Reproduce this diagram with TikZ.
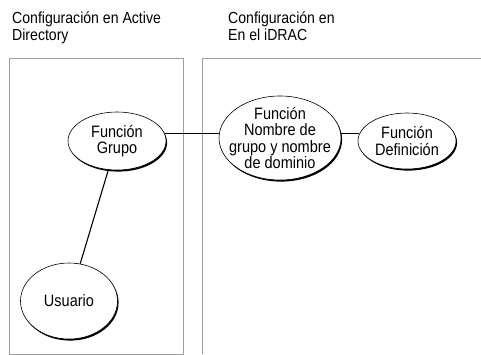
\documentclass[tikz,border=0pt]{standalone}
\usepackage{fontspec}
\setmainfont{Liberation Sans}[FakeStretch=0.88]
\usetikzlibrary{shapes.geometric,shadows}

\tikzset{
  rolenode/.style={ellipse, draw=black, line width=0.6pt, fill=white, inner sep=0pt,
    align=center, font=\fontsize{16.5}{16.5}\selectfont,
    drop shadow={shadow xshift=1.1pt, shadow yshift=-1.6pt, fill=black, opacity=1}},
  areabox/.style={draw=gray!75, line width=0.9pt},
  conn/.style={draw=black, line width=1.1pt},
  titletext/.style={anchor=base west, inner sep=0pt, align=left,
    font=\fontsize{16}{17}\selectfont}
}

\begin{document}
\begin{tikzpicture}[x=1pt, y=-1pt]
    \useasboundingbox (0,0) rectangle (481,354);

    % Titles
    \node[titletext] (titleAD) at (12,40) {Configuración en Active\\Directory};
    \node[titletext] (titleDRAC) at (228,40) {Configuración en\\En el iDRAC};

    % Areas
    \draw[areabox] (9,58) rectangle (183,354);
    \draw[areabox] (202,354) -- (202,58) -- (490,58);

    % Roles
    \node[rolenode, minimum width=98pt, minimum height=58pt] (grupo) at (117,141) {Función\\Grupo};
    \node[rolenode, inner xsep=-11pt, inner ysep=-3pt, minimum width=122pt, minimum height=84pt] (nombre) at (280,138) {Función\\Nombre de\\grupo y nombre\\de dominio};
    \node[rolenode, minimum width=98pt, minimum height=56pt] (definicion) at (407,141) {Función\\Definición};
    \node[rolenode, minimum width=97pt, minimum height=76pt] (usuario) at (69,301) {Usuario};

    % Links
    \draw[conn] (grupo.9) -- (grupo.9 -| nombre.west);
    \draw[conn] (definicion.171) -- (definicion.171 -| nombre.east);
    \draw[conn] (grupo) -- (usuario);
\end{tikzpicture}
\end{document}
